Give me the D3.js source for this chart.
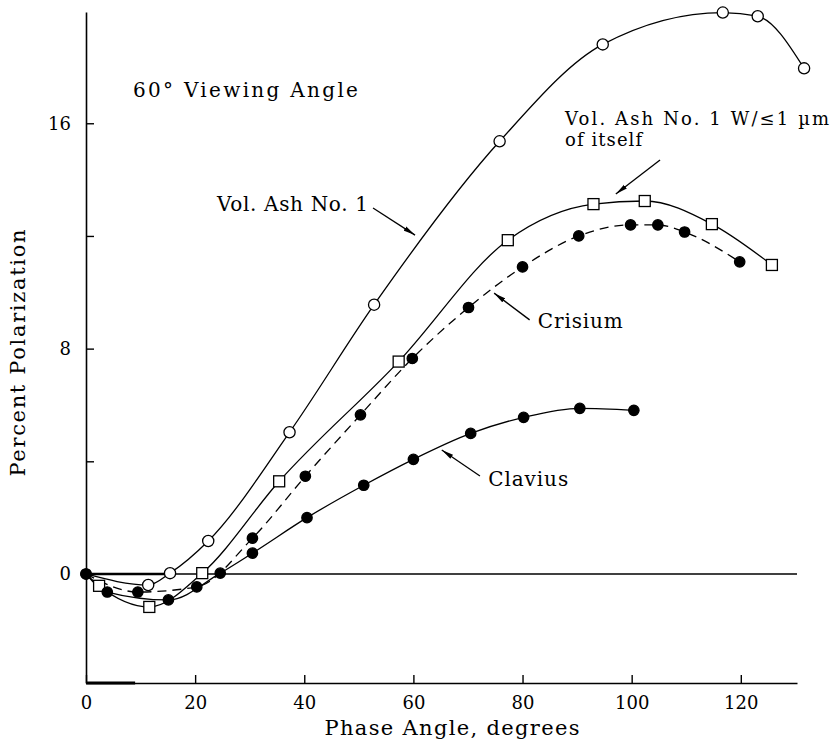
<!DOCTYPE html>
<html>
<head>
<meta charset="utf-8">
<script src="https://cdn.jsdelivr.net/npm/d3@7"></script>
<style>
  body { margin: 0; background: #fff; }
  svg text { font-family: "DejaVu Serif", "Liberation Serif", serif; fill: #000; }
</style>
</head>
<body>
<div id="chart"></div>
<script>
// values: phase angle (deg) vs percent polarization
var ashX = [0, 11.4, 15.4, 22.4, 37.3, 52.8, 75.8, 94.7, 116.7, 123.1, 131.6];
var ashY = [0, -0.39, 0.03, 1.17, 5.03, 9.56, 15.36, 18.8, 19.93, 19.8, 17.95];

var ashFineX = [0, 2.4, 11.6, 21.3, 35.4, 57.3, 77.3, 93.0, 102.4, 114.7, 125.7];
var ashFineY = [0, -0.42, -1.17, 0.03, 3.29, 7.54, 11.85, 13.13, 13.24, 12.42, 10.97];

var crisiumX = [0, 9.5, 20.3, 30.5, 40.2, 50.3, 59.8, 70.1, 80.0, 90.3, 99.8, 104.8, 109.7, 119.8];
var crisiumY = [0, -0.64, -0.46, 1.27, 3.47, 5.65, 7.65, 9.46, 10.9, 12.0, 12.39, 12.39, 12.14, 11.08];

var claviusX = [0, 3.9, 15.1, 24.6, 30.5, 40.5, 50.9, 60.0, 70.5, 80.2, 90.5, 100.4];
var claviusY = [0, -0.64, -0.92, 0.03, 0.74, 2.0, 3.15, 4.07, 4.99, 5.56, 5.88, 5.81];

var xTicks = [0, 20, 40, 60, 80, 100, 120];
var yTicks = [0, 4, 8, 12, 16];
var yTickLabels = ['0', '', '8', '', '16'];

var width = 830, height = 741;

var x = d3.scaleLinear().domain([0, 130.3]).range([86, 797]);
var y = d3.scaleLinear().domain([-3.87, 19.95]).range([683, 12]);

var svg = d3.select('#chart').append('svg')
  .attr('width', width)
  .attr('height', height);

svg.append('defs').append('marker')
    .attr('id', 'head')
    .attr('viewBox', '0 0 12 6')
    .attr('refX', 12)
    .attr('refY', 3)
    .attr('markerWidth', 12)
    .attr('markerHeight', 6)
    .attr('markerUnits', 'userSpaceOnUse')
    .attr('orient', 'auto')
  .append('path')
    .attr('d', 'M0,0.6 L12,3 L0,5.4 Z')
    .attr('fill', '#000');

// axes
var xAxis = d3.axisBottom(x)
  .tickValues(xTicks)
  .tickSizeInner(-8)
  .tickSizeOuter(0)
  .tickPadding(13);
var gx = svg.append('g')
  .attr('transform', 'translate(0,' + y.range()[0] + ')')
  .call(xAxis);

var yAxis = d3.axisLeft(y)
  .tickValues(yTicks)
  .tickFormat(function(d, i) { return yTickLabels[i]; })
  .tickSizeInner(-8)
  .tickSizeOuter(0)
  .tickPadding(15);
var gy = svg.append('g')
  .attr('transform', 'translate(' + x(0) + ',0)')
  .call(yAxis);

[gx, gy].forEach(function(g) {
  g.select('.domain').attr('stroke', '#000').attr('stroke-width', 1.6);
  g.selectAll('.tick line').attr('stroke', '#000').attr('stroke-width', 1.4);
  g.selectAll('.tick text')
    .style('font-family', '"DejaVu Serif", serif')
    .style('font-size', '18px')
    .attr('fill', '#000');
});

// zero line
svg.append('line')
  .attr('x1', x(0)).attr('x2', x.range()[1])
  .attr('y1', y(0)).attr('y2', y(0))
  .attr('stroke', '#000').attr('stroke-width', 1.4);
svg.append('line')
  .attr('x1', x(0)).attr('x2', x(15))
  .attr('y1', y(0)).attr('y2', y(0))
  .attr('stroke', '#000').attr('stroke-width', 2.4);
svg.append('line')
  .attr('x1', x(0)).attr('x2', x(9))
  .attr('y1', y.range()[0]).attr('y2', y.range()[0])
  .attr('stroke', '#000').attr('stroke-width', 3);

// curves
var line = d3.line()
  .x(function(d) { return x(d[0]); })
  .y(function(d) { return y(d[1]); })
  .curve(d3.curveMonotoneX);

function pts(xs, ys) {
  return xs.map(function(v, i) { return [v, ys[i]]; });
}

var series = [
  { name: 'ash', data: pts(ashX, ashY), dash: null, mark: 'circle-open' },
  { name: 'ashFine', data: pts(ashFineX, ashFineY), dash: null, mark: 'square' },
  { name: 'crisium', data: pts(crisiumX, crisiumY), dash: '9,6', mark: 'dot' },
  { name: 'clavius', data: pts(claviusX, claviusY), dash: null, mark: 'dot' }
];

series.forEach(function(s) {
  svg.append('path')
    .datum(s.data)
    .attr('class', 'curve-' + s.name)
    .attr('d', line)
    .attr('fill', 'none')
    .attr('stroke', '#000')
    .attr('stroke-width', 1.3)
    .attr('stroke-dasharray', s.dash);
});

series.forEach(function(s) {
  var g = svg.append('g').attr('class', 'marks-' + s.name);
  if (s.mark === 'square') {
    g.selectAll('rect').data(s.data.slice(1))
      .enter().append('rect')
        .attr('x', function(d) { return x(d[0]) - 5.5; })
        .attr('y', function(d) { return y(d[1]) - 5.5; })
        .attr('width', 11)
        .attr('height', 11)
        .attr('fill', '#fff')
        .attr('stroke', '#000')
        .attr('stroke-width', 1.3);
  } else {
    g.selectAll('circle').data(s.mark === 'dot' ? s.data : s.data.slice(1))
      .enter().append('circle')
        .attr('cx', function(d) { return x(d[0]); })
        .attr('cy', function(d) { return y(d[1]); })
        .attr('r', s.mark === 'dot' ? 5.2 : 5.6)
        .attr('fill', s.mark === 'dot' ? '#000' : '#fff')
        .attr('stroke', '#000')
        .attr('stroke-width', 1.3);
  }
});

// labels and arrows, in data units
var labelText = ['60° Viewing Angle', 'Vol. Ash No. 1', 'Vol. Ash No. 1 W/≤1 µm', 'of itself', 'Crisium', 'Clavius'];
var labelX = [8.6, 24.0, 87.8, 87.8, 82.8, 73.7];
var labelY = [16.93, 12.89, 15.94, 15.19, 8.73, 3.12];
var labelLen = [225, 151, 264, 77, 85, 80];
var labelSize = [20, 20, 18, 18, 20, 20];

svg.append('g').selectAll('text').data(labelText)
  .enter().append('text')
    .attr('x', function(d, i) { return x(labelX[i]); })
    .attr('y', function(d, i) { return y(labelY[i]); })
    .attr('textLength', function(d, i) { return labelLen[i]; })
    .attr('lengthAdjust', 'spacing')
    .style('font-size', function(d, i) { return labelSize[i] + 'px'; })
    .text(function(d) { return d; });

var arrows = [
  [[52.6, 12.99], [60.3, 12.03]],
  [[105.2, 14.70], [97.1, 13.49]],
  [[81.3, 9.02], [74.8, 9.97]],
  [[72.2, 3.48], [65.2, 4.40]]
];
svg.append('g').selectAll('line').data(arrows)
  .enter().append('line')
    .attr('x1', function(d) { return x(d[0][0]); })
    .attr('y1', function(d) { return y(d[0][1]); })
    .attr('x2', function(d) { return x(d[1][0]); })
    .attr('y2', function(d) { return y(d[1][1]); })
    .attr('stroke', '#000')
    .attr('stroke-width', 1.3)
    .attr('marker-end', 'url(#head)');

// axis titles
svg.append('text')
  .attr('x', 452)
  .attr('y', 735)
  .attr('text-anchor', 'middle')
  .attr('textLength', 255)
  .attr('lengthAdjust', 'spacing')
  .style('font-size', '21px')
  .text('Phase Angle, degrees');

svg.append('text')
  .attr('transform', 'translate(25,353) rotate(-90)')
  .attr('text-anchor', 'middle')
  .attr('textLength', 247)
  .attr('lengthAdjust', 'spacing')
  .style('font-size', '21px')
  .text('Percent Polarization');
</script>
</body>
</html>
